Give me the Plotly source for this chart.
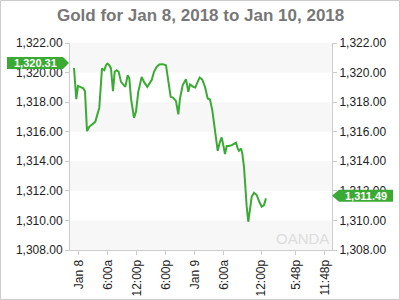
import plotly.graph_objects as go

# hours relative to Jan 8 00:00 (axis units), and gold price
hours = [-1.03, -0.56, -0.21, 0.35, 0.89, 1.24, 1.66, 2.13, 2.83, 3.37, 3.87, 4.2,
         4.76, 5.23, 5.59, 5.86, 6.27, 6.62, 7.03, 7.39, 7.8, 8.21, 8.69, 9.17,
         9.58, 10.08, 10.41, 10.76, 11.17, 11.38, 11.79, 12.27, 12.97, 13.45, 14.13,
         14.55, 15.04, 15.52, 16.08, 16.61, 17.3, 18.0, 18.48, 18.97, 19.51, 20.07,
         20.55, 20.9, 21.46, 22.14, 22.62, 22.97, 23.65, 24.06, 24.56, 24.97, 25.51,
         26.07, 26.63, 27.1, 27.58, 27.99, 28.49, 28.7, 29.17, 29.52, 29.86, 30.21,
         30.56, 31.04, 31.6, 32.13, 32.48, 32.84, 33.1, 33.52, 33.79, 34.14, 34.35,
         34.7, 35.03, 35.38, 35.73, 36.21, 36.77, 37.31, 37.8, 38.28, 38.69]
prices = [1320.31, 1318.20, 1319.10, 1319.03, 1318.93, 1318.74, 1316.04, 1316.33,
          1316.56, 1316.67, 1317.24, 1317.61, 1320.28, 1320.16, 1320.50, 1320.61,
          1320.50, 1320.28, 1318.74, 1320.05, 1320.16, 1320.05, 1319.37, 1319.15,
          1319.03, 1319.82, 1319.62, 1318.25, 1317.32, 1316.94, 1317.34, 1318.70,
          1319.71, 1319.37, 1319.03, 1319.26, 1319.49, 1320.05, 1320.39, 1320.55,
          1320.57, 1320.50, 1319.37, 1318.36, 1318.29, 1318.07, 1317.17, 1318.25,
          1319.15, 1319.55, 1318.70, 1319.20, 1319.03, 1318.99, 1319.37, 1319.66,
          1319.53, 1319.03, 1318.25, 1318.18, 1317.46, 1316.33, 1315.21, 1314.71,
          1315.32, 1315.61, 1315.09, 1314.49, 1315.03, 1315.03, 1315.09, 1315.21,
          1315.25, 1314.87, 1314.71, 1314.87, 1314.53, 1313.63, 1312.51, 1310.93,
          1309.91, 1310.93, 1311.60, 1311.87, 1311.72, 1311.26, 1310.93, 1311.04,
          1311.49]

tick_pos = [0, 6, 12, 18, 24, 30, 37.7, 44.9, 50.9]
tick_text = ["Jan 8", "6:00a", "12:00p", "6:00p", "Jan 9", "6:00a", "12:00p", "5:48p", "11:48p"]
y_ticks = [1308, 1310, 1312, 1314, 1316, 1318, 1320, 1322]
open_label = "1,320.31"
last_label = "1,311.49"
open_value = 1320.31
last_value = 1311.49

GREEN = "#3BAA34"
W, H = 400, 300
ML, MR, MT, MB = 70, 68, 43, 50
PW, PH = W - ML - MR, H - MT - MB
UNIT_PX = PH / 14.0  # pixels per price unit

def px(x):
    return (x - ML) / PW

def py(y):
    return (H - MB - y) / PH

fig = go.Figure()

shapes = []
for i, lo in enumerate(y_ticks[:-1]):
    if i % 2 == 0:
        shapes.append(dict(type="rect", xref="paper", yref="y", x0=0, x1=1,
                           y0=lo, y1=lo + 2, fillcolor="#F7F7F7", line_width=0, layer="below"))

fig.add_trace(go.Scatter(x=hours, y=prices, mode="lines",
                         line=dict(color=GREEN, width=2), hoverinfo="skip", showlegend=False))
fig.add_trace(go.Scatter(x=hours[:1], y=prices[:1], yaxis="y2", mode="lines",
                         line=dict(width=0), opacity=0, hoverinfo="skip", showlegend=False))

# outer frame
shapes.append(dict(type="rect", xref="paper", yref="paper",
                   x0=px(0.5), x1=px(W - 0.5), y0=py(H - 0.5), y1=py(0.5),
                   line=dict(color="#CCCCCC", width=1), fillcolor="rgba(0,0,0,0)"))

HALF = 6.0 / UNIT_PX

def tag_left(yc):
    x0, x1, tip = px(7), px(63), px(69)
    return dict(type="path", xref="paper", yref="y",
                path=f"M {x0},{yc - HALF} L {x1},{yc - HALF} L {tip},{yc} L {x1},{yc + HALF} L {x0},{yc + HALF} Z",
                fillcolor=GREEN, line_width=0)

def tag_right(yc):
    x0, x1, tip = px(339), px(393), px(332)
    return dict(type="path", xref="paper", yref="y",
                path=f"M {tip},{yc} L {x0},{yc - HALF} L {x1},{yc - HALF} L {x1},{yc + HALF} L {x0},{yc + HALF} Z",
                fillcolor=GREEN, line_width=0)

open_tag_v = open_value + 0.33
last_tag_v = last_value + 0.18
shapes.append(tag_left(open_tag_v))
shapes.append(tag_right(last_tag_v))

FONT = "Liberation Sans, Arial"
annotations = [
    dict(text="Gold for Jan 8, 2018 to Jan 10, 2018", xref="paper", yref="paper",
         x=px(200), y=py(15), showarrow=False, xanchor="center", yanchor="middle",
         font=dict(family=FONT, size=17, color="#777777", weight="bold")),
    dict(text=f"<b>{open_label}</b>", xref="paper", yref="y", x=px(35), y=open_tag_v,
         showarrow=False, xanchor="center", yanchor="middle",
         font=dict(family=FONT, size=11, color="white")),
    dict(text=f"<b>{last_label}</b>", xref="paper", yref="y", x=px(366), y=last_tag_v,
         showarrow=False, xanchor="center", yanchor="middle",
         font=dict(family=FONT, size=11, color="white")),
    dict(text="OANDA", xref="paper", yref="paper", x=px(331), y=py(238),
         showarrow=False, xanchor="right", yanchor="middle",
         font=dict(family=FONT, size=15, color="#DDDDDD")),
]

yaxis_common = dict(range=[1308, 1322], tickvals=y_ticks, tickformat=",.2f",
                    showgrid=False, zeroline=False, showline=True, linecolor="#CCCCCC",
                    ticks="outside", ticklen=4, tickcolor="#CCCCCC", automargin=False,
                    tickfont=dict(family=FONT, size=12, color="#222222"),
                    fixedrange=True)

fig.update_layout(
    width=W, height=H, margin=dict(l=ML, r=MR, t=MT, b=MB),
    paper_bgcolor="white", plot_bgcolor="white",
    xaxis=dict(range=[-1.86, 52.35], tickvals=tick_pos, ticktext=tick_text,
               tickangle=-90, showgrid=False, zeroline=False, showline=True,
               linecolor="#CCCCCC", ticks="outside", ticklen=4, tickcolor="#CCCCCC",
               automargin=False,
               tickfont=dict(family=FONT, size=12, color="#222222")),
    yaxis=dict(side="left", **yaxis_common),
    yaxis2=dict(side="right", overlaying="y", **yaxis_common),
    shapes=shapes, annotations=annotations, showlegend=False,
)

fig.write_html("out.html")
